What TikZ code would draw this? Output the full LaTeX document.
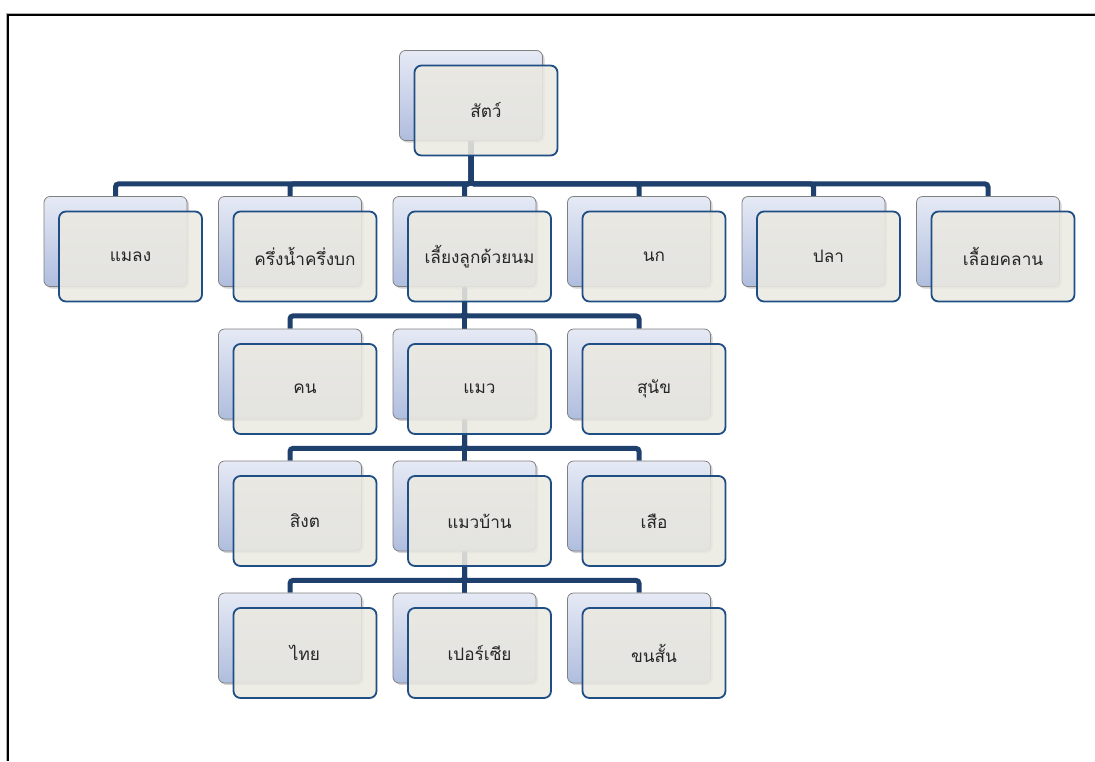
\documentclass[tikz,border=0pt]{standalone}
\usepackage{fontspec}
\newfontfamily\thaifont[Script=Thai]{Loma}
\usetikzlibrary{calc,shadows,backgrounds}
\definecolor{connblue}{HTML}{1F3F6C}
\definecolor{frontline}{HTML}{1F4E84}
\definecolor{frontfill}{HTML}{EBE9E1}
\definecolor{backtop}{HTML}{E6EAF5}
\definecolor{backbot}{HTML}{AFBDDE}
\definecolor{backline}{HTML}{808080}
\definecolor{txt}{HTML}{262626}
\tikzset{
  backbox/.style={draw=backline, line width=0.8pt, rounded corners=6pt,
    top color=backtop, bottom color=backbot, minimum width=143pt, minimum height=90pt,
    inner sep=0pt, drop shadow={opacity=0.35, shadow xshift=2pt, shadow yshift=-2pt}},
  frontbox/.style={draw=frontline, line width=1.8pt, rounded corners=7pt,
    fill=frontfill, fill opacity=0.88, text opacity=1, minimum width=143pt, minimum height=90pt,
    inner sep=0pt, font=\thaifont\fontsize{17.2}{19}\selectfont, text=txt},
  conn/.style={draw=connblue, line width=5pt, rounded corners=3pt}
}
\newcommand\animalpair[3]{%
  \node[backbox] (#1-bk) at (#2) {};
  \node[frontbox] (#1) at ($(#2)+(15,15)$) {#3};
}
\begin{document}
\begin{tikzpicture}[x=1pt,y=-1pt]
\useasboundingbox (0,0) rectangle (1095,761);
\draw[gray!60, line width=1pt] (6,761) -- (6,13) -- (1095,13);
\draw[black, line width=2pt] (8,761) -- (8,15) -- (1095,15);
% nodes
\animalpair{top}{471,95.5}{สัตว์}
\animalpair{a}{115.5,241.5}{แมลง}
\animalpair{b}{290,241.5}{ครึ่งน้ำครึ่งบก}
\animalpair{c}{464.5,241.5}{เลี้ยงลูกด้วยนม}
\animalpair{d}{639,241.5}{นก}
\animalpair{e}{813.5,241.5}{ปลา}
\animalpair{f}{988,241.5}{เลื้อยคลาน}
\animalpair{ca}{290,374}{คน}
\animalpair{cb}{464.5,374}{แมว}
\animalpair{cc}{639,374}{สุนัข}
\animalpair{cba}{290,506}{สิงต}
\animalpair{cbb}{464.5,506}{แมวบ้าน}
\animalpair{cbc}{639,506}{เสือ}
\animalpair{cbba}{290,638}{ไทย}
\animalpair{cbbb}{464.5,638}{เปอร์เซีย}
\animalpair{cbbc}{639,638}{ขนสั้น}
\begin{pgfonlayer}{background}
\foreach \k in {a,b,c,d,e,f} \draw[conn] (top-bk.south) -- ++(0,43) -| (\k-bk.north);
\foreach \k in {ca,cb,cc} \draw[conn] (c-bk.south) -- ++(0,29) -| (\k-bk.north);
\foreach \k in {cba,cbb,cbc} \draw[conn] (cb-bk.south) -- ++(0,29) -| (\k-bk.north);
\foreach \k in {cbba,cbbb,cbbc} \draw[conn] (cbb-bk.south) -- ++(0,29) -| (\k-bk.north);
\end{pgfonlayer}
\end{tikzpicture}
\end{document}
